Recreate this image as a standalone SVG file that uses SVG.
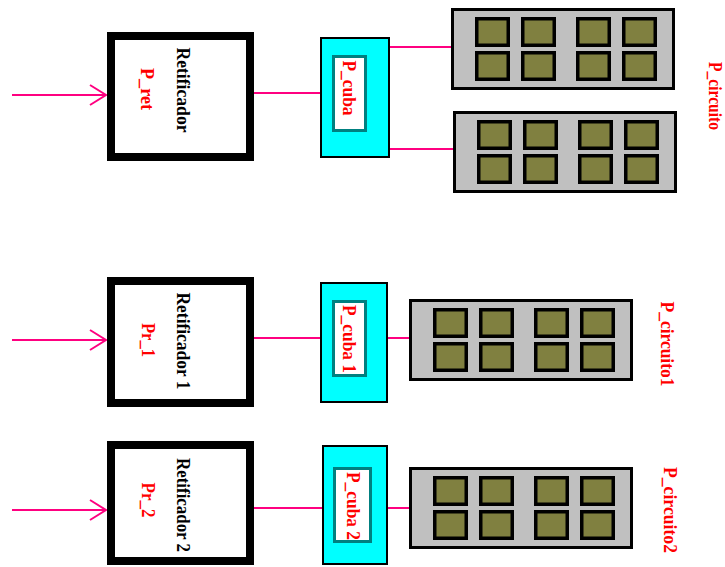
<svg xmlns="http://www.w3.org/2000/svg" xmlns:xlink="http://www.w3.org/1999/xlink" width="725" height="567" viewBox="0 0 725 567">
<style>
.wire{stroke:#ff0080;stroke-width:2;fill:none}
.ret{fill:#fff;stroke:#000;stroke-width:8}
.cuba{fill:#00ffff;stroke:#000;stroke-width:2}
.cin{fill:#fff;stroke:#008080;stroke-width:3}
.cbox{fill:#c0c0c0;stroke:#000;stroke-width:3}
.mod{fill:#808040;stroke:#000;stroke-width:3.5}
.t{font-family:"Liberation Serif","Times New Roman",serif;font-weight:bold;font-size:18px;text-anchor:middle;dominant-baseline:central}
.blk{fill:#000}
.red{fill:#ff0000}
</style>
<defs>
<g id="circuit">
<rect class="cbox" x="1.5" y="1.5" width="221" height="79"/>
<rect class="mod" x="25.75" y="10.75" width="31.5" height="26.5"/>
<rect class="mod" x="71.75" y="10.75" width="31.5" height="26.5"/>
<rect class="mod" x="126.75" y="10.75" width="31.5" height="26.5"/>
<rect class="mod" x="172.75" y="10.75" width="31.5" height="26.5"/>
<rect class="mod" x="25.75" y="44.75" width="31.5" height="26.5"/>
<rect class="mod" x="71.75" y="44.75" width="31.5" height="26.5"/>
<rect class="mod" x="126.75" y="44.75" width="31.5" height="26.5"/>
<rect class="mod" x="172.75" y="44.75" width="31.5" height="26.5"/>
</g>
</defs>
<rect width="725" height="567" fill="#fff"/>
<g id="connectors">
<line class="wire" x1="12" y1="95" x2="106" y2="95"/>
<polyline class="wire" points="90,85 106,95 90,105"/>
<line class="wire" x1="254" y1="93" x2="320" y2="93"/>
<line class="wire" x1="390" y1="47" x2="451" y2="47"/>
<line class="wire" x1="390" y1="149" x2="453" y2="149"/>
<line class="wire" x1="12" y1="340" x2="106" y2="340"/>
<polyline class="wire" points="90,330 106,340 90,350"/>
<line class="wire" x1="254" y1="338" x2="320" y2="338"/>
<line class="wire" x1="388" y1="338" x2="409" y2="338"/>
<line class="wire" x1="12" y1="510" x2="106" y2="510"/>
<polyline class="wire" points="90,500 106,510 90,520"/>
<line class="wire" x1="254" y1="508" x2="322" y2="508"/>
<line class="wire" x1="388" y1="508" x2="409" y2="508"/>
</g>
<g id="retificador">
<rect class="ret" x="111" y="36" width="139" height="121"/>
<text class="t blk" transform="translate(183,90) rotate(90)" textLength="85" lengthAdjust="spacingAndGlyphs">Retificador</text>
<text class="t red" transform="translate(147,89) rotate(90)" textLength="42" lengthAdjust="spacingAndGlyphs">P_ret</text>
</g>
<g id="cuba">
<rect class="cuba" x="321" y="38" width="68" height="119"/>
<rect class="cin" x="333.5" y="56.5" width="32" height="74"/>
<text class="t red" transform="translate(349,88) rotate(90)" textLength="55" lengthAdjust="spacingAndGlyphs">P_cuba</text>
</g>
<g id="circuito-a"><use xlink:href="#circuit" x="451" y="8"/></g>
<g id="circuito-b"><use xlink:href="#circuit" x="453" y="111"/></g>
<g id="label-circuito"><text class="t red" transform="translate(715,96) rotate(90)" textLength="68" lengthAdjust="spacingAndGlyphs">P_circuito</text></g>
<g id="retificador1">
<rect class="ret" x="111" y="281" width="139" height="122"/>
<text class="t blk" transform="translate(183,341) rotate(90)" textLength="97" lengthAdjust="spacingAndGlyphs">Retificador 1</text>
<text class="t red" transform="translate(148,340) rotate(90)" textLength="34" lengthAdjust="spacingAndGlyphs">Pr_1</text>
</g>
<g id="cuba1">
<rect class="cuba" x="321" y="283" width="66" height="119"/>
<rect class="cin" x="333.5" y="301.5" width="32" height="74"/>
<text class="t red" transform="translate(349,339) rotate(90)" textLength="68" lengthAdjust="spacingAndGlyphs">P_cuba 1</text>
</g>
<g id="circuito1">
<use xlink:href="#circuit" x="409" y="299"/>
<text class="t red" transform="translate(667,344) rotate(90)" textLength="85" lengthAdjust="spacingAndGlyphs">P_circuito1</text>
</g>
<g id="retificador2">
<rect class="ret" x="111" y="445" width="139" height="116"/>
<text class="t blk" transform="translate(183,505) rotate(90)" textLength="94" lengthAdjust="spacingAndGlyphs">Retificador 2</text>
<text class="t red" transform="translate(148,500) rotate(90)" textLength="35" lengthAdjust="spacingAndGlyphs">Pr_2</text>
</g>
<g id="cuba2">
<rect class="cuba" x="323" y="446" width="64" height="118"/>
<rect class="cin" x="334.5" y="468.5" width="36" height="73"/>
<text class="t red" transform="translate(353,506) rotate(90)" textLength="68" lengthAdjust="spacingAndGlyphs">P_cuba 2</text>
</g>
<g id="circuito2">
<use xlink:href="#circuit" x="409" y="467"/>
<text class="t red" transform="translate(670,510) rotate(90)" textLength="86" lengthAdjust="spacingAndGlyphs">P_circuito2</text>
</g>
</svg>
